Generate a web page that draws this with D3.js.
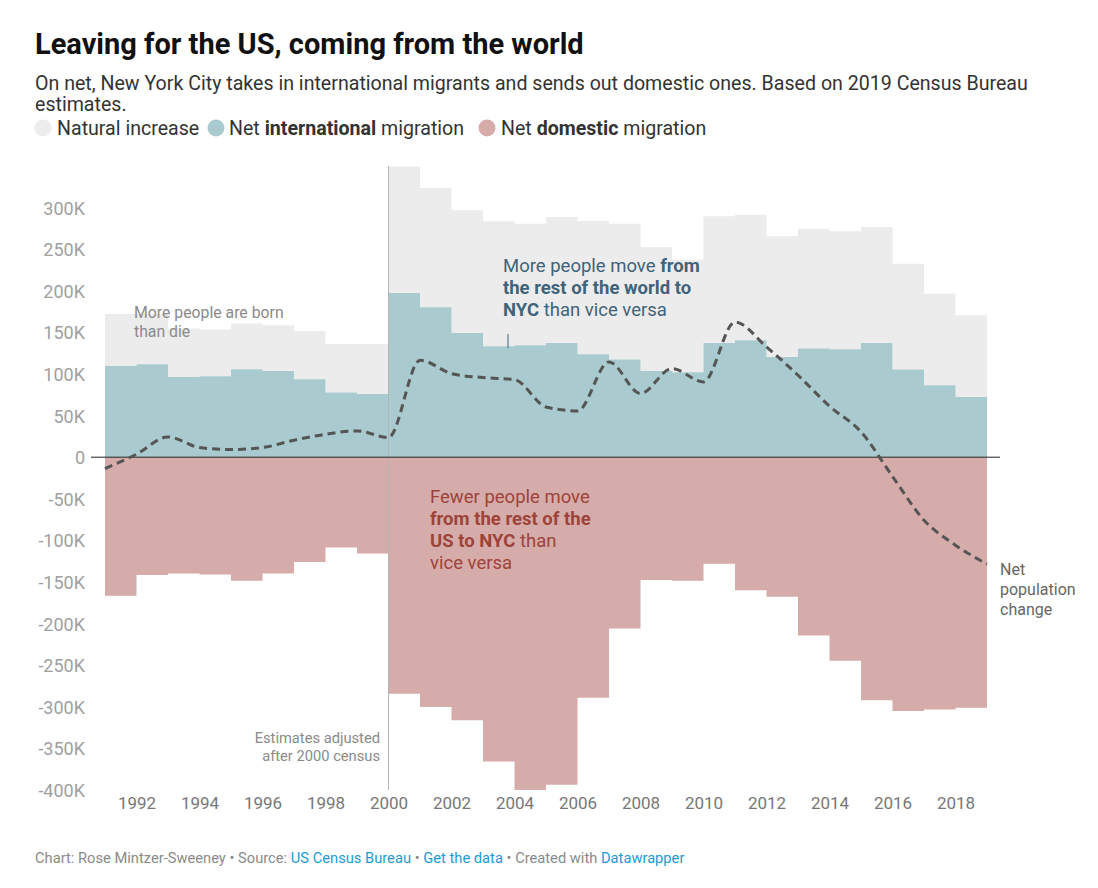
<!DOCTYPE html>
<html>
<head>
<meta charset="utf-8">
<script src="https://cdn.jsdelivr.net/npm/d3@7"></script>
<style>
  html, body { margin: 0; padding: 0; background: #fff; }
  body { width: 1098px; height: 888px; overflow: hidden; font-family: Roboto, "Noto Sans", sans-serif; }
  svg text { font-family: Roboto, "Noto Sans", sans-serif; }
</style>
</head>
<body>
<svg id="chart" width="1098" height="888"></svg>
<script>
// ---- Data (values in people) ----
const years = [1991,1992,1993,1994,1995,1996,1997,1998,1999,2000,2001,2002,2003,2004,2005,2006,2007,2008,2009,2010,2011,2012,2013,2014,2015,2016,2017,2018];
const naturalIncrease = [62300,60300,58100,56100,54900,54900,58000,58400,60100,152100,143300,147400,150200,146200,151400,160200,163400,148900,135300,152200,151000,145000,144200,141800,139400,127300,110100,98100];
const netInternational = [109700,111700,96500,97300,105700,103700,93700,77700,76000,197400,180200,149300,133300,134500,137300,123700,117300,103700,102100,137300,140500,120500,130500,129700,137300,105300,86500,72500];
const netDomestic = [-166600,-141700,-139700,-140900,-148500,-139700,-126100,-108500,-115700,-284300,-300300,-316300,-365600,-400000,-393600,-289100,-205800,-147700,-148500,-128100,-159800,-167800,-214200,-244600,-292200,-305100,-303100,-301100];
const lineYears = [1991,1992,1993,1994,1995,1996,1997,1998,1999,2000,2001,2002,2003,2004,2005,2006,2007,2008,2009,2010,2011,2012,2013,2014,2015,2016,2017,2018,2019];
const netChange = [-13600,3600,24400,11600,9200,11600,20400,27600,31600,23600,116500,100500,95700,93300,60400,55600,114500,76500,106500,90500,162500,132500,98500,61300,30400,-23100,-75700,-105700,-128500];
const yTicks = [300000,250000,200000,150000,100000,50000,0,-50000,-100000,-150000,-200000,-250000,-300000,-350000,-400000];
const yTickLabels = ["300K","250K","200K","150K","100K","50K","0","-50K","-100K","-150K","-200K","-250K","-300K","-350K","-400K"];
const xTicks = [1992,1994,1996,1998,2000,2002,2004,2006,2008,2010,2012,2014,2016,2018];
const xDomain = [1991, 2019];
const yDomain = [-400000, 350000];

// ---- Colors ----
const C_NAT = "#ececec", C_INT = "#a9cace", C_DOM = "#d6acaa";

const svg = d3.select("#chart");

// Title, subtitle
svg.append("text").attr("x", 35).attr("y", 54).attr("font-size", 29).attr("font-weight", 700).attr("fill", "#111")
  .text("Leaving for the US, coming from the world");
const sub = svg.append("text").attr("font-size", 19.6).attr("fill", "#333");
sub.append("tspan").attr("x", 35).attr("y", 90).text("On net, New York City takes in international migrants and sends out domestic ones. Based on 2019 Census Bureau");
sub.append("tspan").attr("x", 35).attr("y", 111).text("estimates.");

// Legend
const legend = [
  {c: C_NAT, cx: 43, tx: 57, parts: [["Natural increase", 400]]},
  {c: C_INT, cx: 216, tx: 229, parts: [["Net ", 400], ["international", 700], [" migration", 400]]},
  {c: C_DOM, cx: 487, tx: 501, parts: [["Net ", 400], ["domestic", 700], [" migration", 400]]}
];
legend.forEach(l => {
  svg.append("circle").attr("cx", l.cx).attr("cy", 128).attr("r", 8.5).attr("fill", l.c);
  const t = svg.append("text").attr("x", l.tx).attr("y", 135).attr("font-size", 19.6).attr("fill", "#333");
  l.parts.forEach(p => t.append("tspan").attr("font-weight", p[1]).text(p[0]));
});

// Scales
const x = d3.scaleLinear().domain(xDomain).range([105, 987]);
const y = d3.scaleLinear().domain(yDomain).range([790, 166]);

// Build step data
const rows = years.map((yr, i) => ({yr, nat: naturalIncrease[i], int: netInternational[i], dom: netDomestic[i]}));
const last = rows[rows.length - 1];
const stepRows = rows.concat([{yr: last.yr + 1, nat: last.nat, int: last.int, dom: last.dom}]);

const g = svg.append("g");
g.append("path").datum(stepRows)
  .attr("d", d3.area().curve(d3.curveStepAfter).x(d => x(d.yr)).y0(d => y(d.int)).y1(d => y(d.int + d.nat)))
  .attr("fill", C_NAT);
g.append("path").datum(stepRows)
  .attr("d", d3.area().curve(d3.curveStepAfter).x(d => x(d.yr)).y0(y(0)).y1(d => y(d.int)))
  .attr("fill", C_INT);
g.append("path").datum(stepRows)
  .attr("d", d3.area().curve(d3.curveStepAfter).x(d => x(d.yr)).y0(y(0)).y1(d => y(d.dom)))
  .attr("fill", C_DOM);

// Vertical line at 2000
svg.append("line").attr("x1", x(2000)).attr("x2", x(2000)).attr("y1", y(350000)).attr("y2", y(-400000))
  .attr("stroke", "#b5b5b5").attr("stroke-width", 1);

// Y axis labels
const yAxis = d3.axisLeft(y).tickValues(yTicks).tickFormat((d, i) => yTickLabels[i]).tickSize(0).tickPadding(0);
const ya = svg.append("g").attr("transform", "translate(85,0)").call(yAxis);
ya.select(".domain").remove();
ya.selectAll("text").attr("font-size", 18).attr("fill", "#a0a0a0").attr("font-family", "Roboto").attr("dy", "0.36em");

// X axis labels
const xAxis = d3.axisBottom(x).tickValues(xTicks).tickFormat(d3.format("d")).tickSize(0).tickPadding(0);
const xa = svg.append("g").attr("transform", "translate(0,796)").call(xAxis);
xa.select(".domain").remove();
xa.selectAll("text").attr("font-size", 17).attr("fill", "#777").attr("font-family", "Roboto").attr("dy", "0.75em");

// Zero line
svg.append("line").attr("x1", 91).attr("x2", 1000).attr("y1", y(0)).attr("y2", y(0)).attr("stroke", "#222").attr("stroke-width", 1);

// Net population change line
svg.append("path").datum(lineYears.map((yr, i) => [yr, netChange[i]]))
  .attr("d", d3.line().curve(d3.curveMonotoneX).x(d => x(d[0])).y(d => y(d[1])))
  .attr("fill", "none").attr("stroke", "#555").attr("stroke-width", 3).attr("stroke-dasharray", "8,5");

// Annotations
function multi(xp, ys, lines, size, color, anchor) {
  const t = svg.append("text").attr("font-size", size).attr("fill", color).attr("text-anchor", anchor || "start");
  lines.forEach((ln, i) => {
    const row = t.append("tspan").attr("x", xp).attr("y", ys[i]);
    ln.forEach((p, j) => {
      if (j === 0) row.attr("font-weight", p[1]).text(p[0]);
      else t.append("tspan").attr("font-weight", p[1]).text(p[0]);
    });
  });
  return t;
}
multi(134, [318, 337], [[["More people are born", 400]], [["than die", 400]]], 15.8, "#8a8a8a");
const cInt = "#3f6379";
multi(503, [272, 294, 316], [
  [["More people move ", 400], ["from", 700]],
  [["the rest of the world to", 700]],
  [["NYC", 700], [" than vice versa", 400]]
], 18.5, cInt);
svg.append("line").attr("x1", 508).attr("x2", 508).attr("y1", 334).attr("y2", 348).attr("stroke", cInt).attr("stroke-width", 1);
const cDom = "#9e4339";
multi(430, [503, 525, 547, 569], [
  [["Fewer people move", 400]],
  [["from the rest of the", 700]],
  [["US to NYC", 700], [" than", 400]],
  [["vice versa", 400]]
], 18.5, cDom);
multi(380, [743, 761], [[["Estimates adjusted", 400]], [["after 2000 census", 400]]], 14.7, "#8a8a8a", "end");
multi(1000, [575, 595, 615], [[["Net", 400]], [["population", 400]], [["change", 400]]], 16, "#666");

// Footer
const f = svg.append("text").attr("x", 35).attr("y", 863).attr("font-size", 14.7).attr("fill", "#8a8a8a");
[["Chart: Rose Mintzer-Sweeney • Source: ", "#8a8a8a"], ["US Census Bureau", "#1d9bd1"], [" • ", "#8a8a8a"],
 ["Get the data", "#1d9bd1"], [" • Created with ", "#8a8a8a"], ["Datawrapper", "#1d9bd1"]]
  .forEach(p => f.append("tspan").attr("fill", p[1]).text(p[0]));
</script>
</body>
</html>
